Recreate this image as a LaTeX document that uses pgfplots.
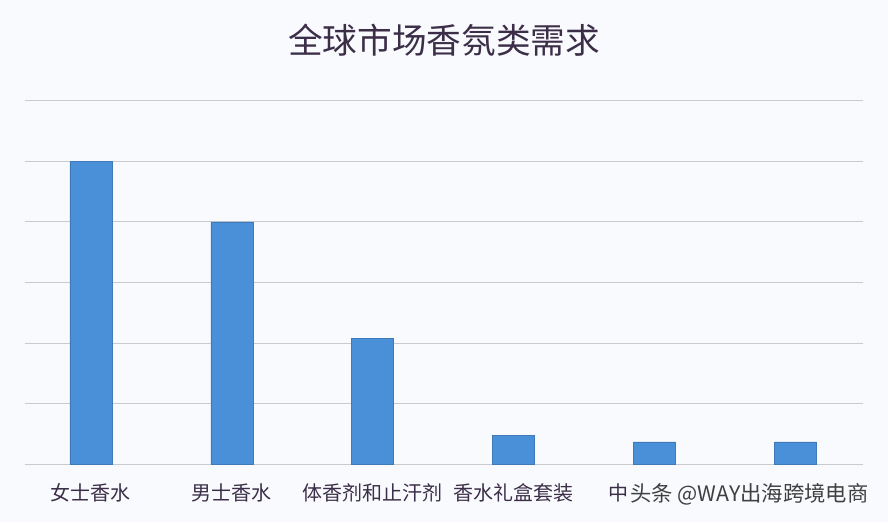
\documentclass[border=0pt]{standalone}
\usepackage{pgfplots}
\pgfplotsset{compat=1.18}
\usepackage{fontspec}
\setmainfont{Noto Sans CJK SC}
\newfontfamily\cjk{Noto Sans CJK SC}
\definecolor{bg}{RGB}{248,250,253}
\definecolor{barblue}{RGB}{74,144,217}
\definecolor{gridgray}{RGB}{200,202,206}
\definecolor{txt}{RGB}{60,46,72}

\begin{document}
\begin{tikzpicture}[x=0.75pt,y=0.75pt]
% page: 888 x 522 px, origin lower-left
\useasboundingbox (0,0) rectangle (888,522);
\fill[bg] (0,0) rectangle (888,522);
\coordinate (ll) at (25,57.7);
\begin{axis}[
    at={(ll)}, anchor=south west,
    scale only axis,
    width=628.5pt, height=272.7pt,
    xmin=-0.468, xmax=5.48,
    ymin=0, ymax=6,
    axis line style={draw=none},
    ytick={0,1,2,3,4,5,6},
    yticklabels={},
    ymajorgrids=true,
    grid style={gridgray, line width=0.8pt},
    major tick length=0pt,
    xtick={0,1,2,3,4,5},
    % 5th and 6th labels are hidden under the watermark, only the first glyph shows
    xticklabels={女士香水,男士香水,体香剂和止汗剂,香水礼盒套装,\makebox[0pt][r]{中\hspace{19.5pt}},},
    xticklabel style={font=\cjk\fontsize{15}{16}\selectfont, text=txt, yshift=-11pt},
    ybar, bar width=31.5pt,
]
\addplot[fill=barblue, draw=barblue!85!black, line width=0.4pt]
    coordinates {(0,5) (1,4) (2,2.08) (3,0.48) (4,0.37) (5,0.37)};
\end{axis}
\node[font=\cjk\fontsize{26}{27}\selectfont, text=txt] at (444,482) {全球市场香氛类需求};
\node[font=\cjk\fontsize{16}{17}\selectfont, text=black!75, inner sep=0pt, anchor=west] at (630,28) {头条 @WAY出海跨境电商};
\end{tikzpicture}
\end{document}
